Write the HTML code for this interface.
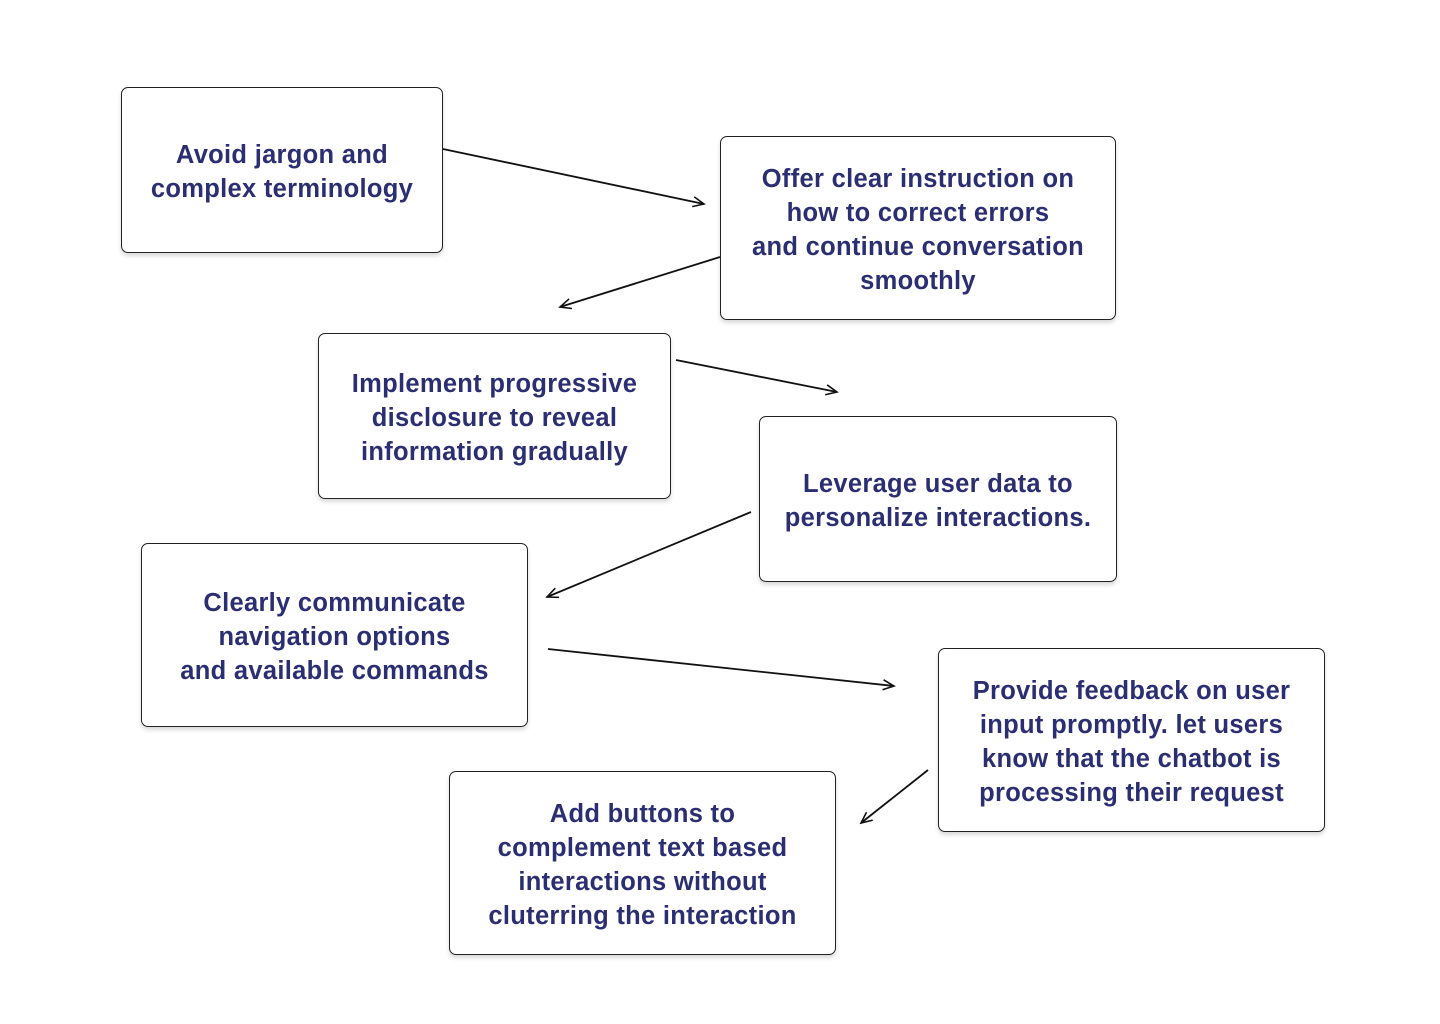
<!DOCTYPE html>
<html><head><style>
body{margin:0;width:1440px;height:1024px;background:#fff;position:relative;overflow:hidden;font-family:"Liberation Sans",sans-serif}
.b{position:absolute;box-sizing:border-box;border:1.3px solid #222;border-radius:7px;background:#fff;box-shadow:0 3px 4px rgba(0,0,0,0.15);display:flex;align-items:center;justify-content:center;text-align:center;color:#2b2f72;font-weight:bold;font-size:25.5px;line-height:34px;padding-top:4px;letter-spacing:0.3px}
svg{position:absolute;left:0;top:0}
</style></head><body>
<div class="b" style="left:121px;top:87px;width:322px;height:166px">Avoid jargon and<br>complex terminology</div>
<div class="b" style="left:720px;top:136px;width:396px;height:184px">Offer clear instruction on<br>how to correct errors<br>and continue conversation<br>smoothly</div>
<div class="b" style="left:318px;top:333px;width:353px;height:166px">Implement progressive<br>disclosure to reveal<br>information gradually</div>
<div class="b" style="left:759px;top:416px;width:358px;height:166px">Leverage user data to<br>personalize interactions.</div>
<div class="b" style="left:141px;top:543px;width:387px;height:184px">Clearly communicate<br>navigation options<br>and available commands</div>
<div class="b" style="left:938px;top:648px;width:387px;height:184px">Provide feedback on user<br>input promptly. let users<br>know that the chatbot is<br>processing their request</div>
<div class="b" style="left:449px;top:771px;width:387px;height:184px">Add buttons to<br>complement text based<br>interactions without<br>cluterring the interaction</div>
<svg width="1440" height="1024">
<defs><marker id="a" markerWidth="14" markerHeight="12" refX="12" refY="6" orient="auto" markerUnits="userSpaceOnUse"><path d="M1,1 L12,6 L1,11" fill="none" stroke="#111" stroke-width="1.6"/></marker></defs>
<g stroke="#111" stroke-width="1.8" fill="none" marker-end="url(#a)">
<line x1="443" y1="149" x2="704" y2="204"/>
<line x1="720" y1="257" x2="560" y2="307"/>
<line x1="676" y1="360" x2="837" y2="392"/>
<line x1="751" y1="512" x2="547" y2="597"/>
<line x1="548" y1="649" x2="894" y2="686"/>
<line x1="928" y1="770" x2="861" y2="823"/>
</g></svg>
</body></html>
